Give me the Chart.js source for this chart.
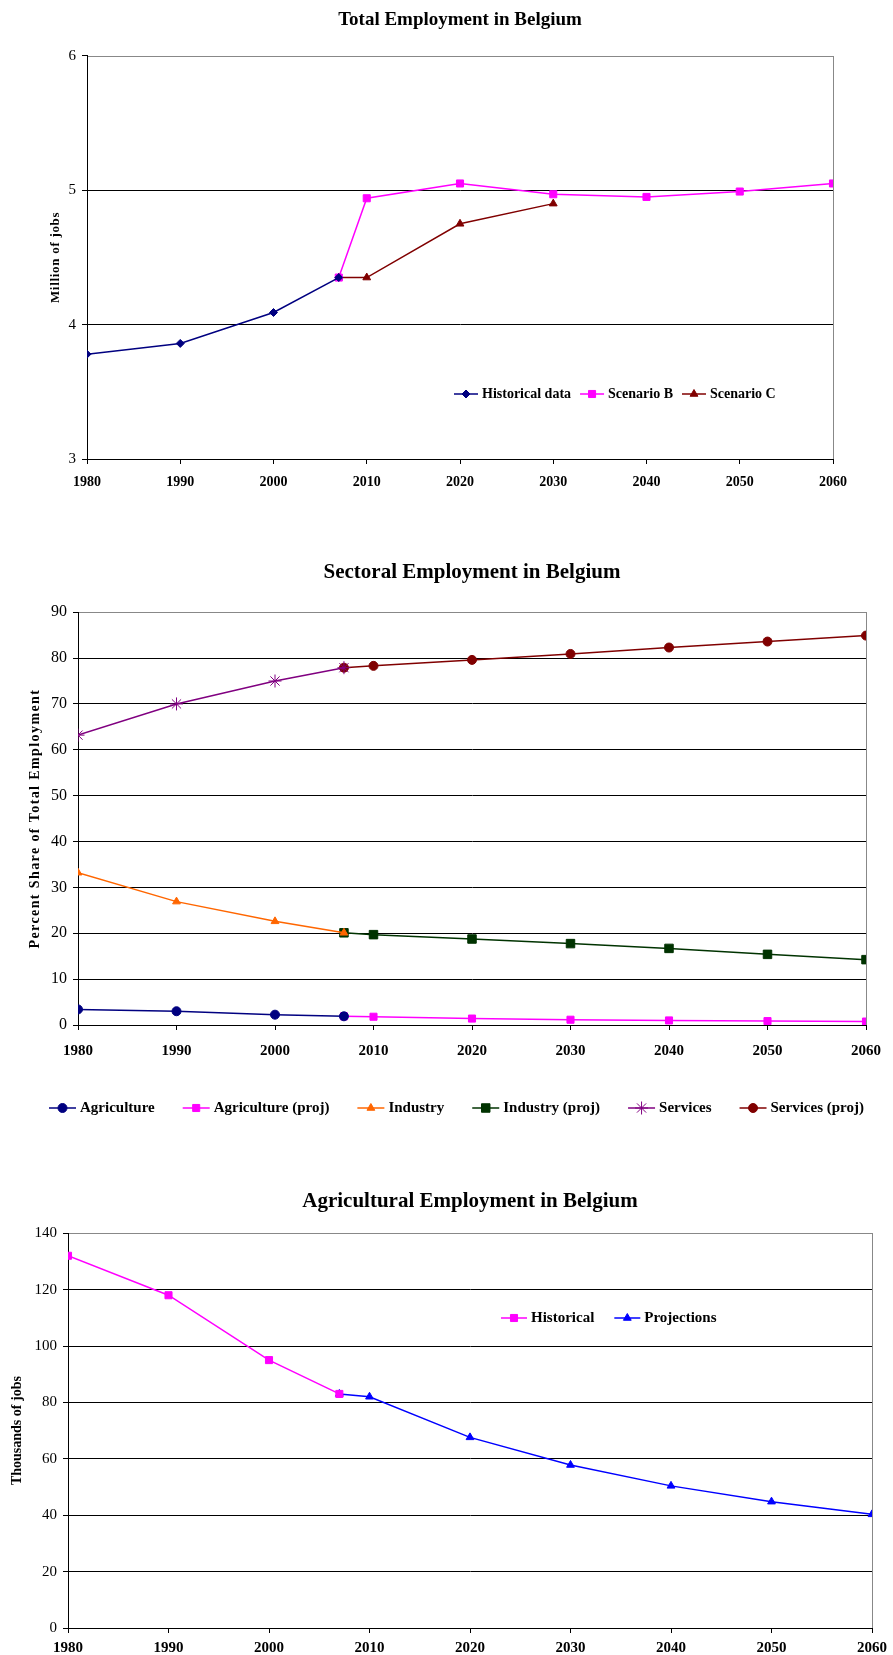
<!DOCTYPE html>
<html>
<head>
<meta charset="utf-8">
<title>Employment in Belgium</title>
<script src="https://cdn.jsdelivr.net/npm/chart.js@4.4.1/dist/chart.umd.min.js"></script>
<style>
  html, body { margin: 0; padding: 0; background: #fff; }
  #page { position: relative; width: 893px; height: 1655px; overflow: hidden; }
  .box { position: absolute; left: 0; width: 893px; }
  #total-box { top: 0; height: 505px; }
  #sector-box { top: 530px; height: 600px; }
  #agri-box { top: 1160px; height: 495px; }
</style>
</head>
<body>
<div id="page">
  <div class="box" id="total-box"><canvas id="total-chart"></canvas></div>
  <div class="box" id="sector-box"><canvas id="sector-chart"></canvas></div>
  <div class="box" id="agri-box"><canvas id="agri-chart"></canvas></div>
</div>
<script>
// years on the x axis
const yearTicks = [1980, 1990, 2000, 2010, 2020, 2030, 2040, 2050, 2060];
const histYears = [1980, 1990, 2000, 2007];
const projYears = [2007, 2010, 2020, 2030, 2040, 2050, 2060];
const scenarioCYears = [2007, 2010, 2020, 2030];

// total employment, million of jobs
const totalHistorical = [3.78, 3.86, 4.09, 4.35];
const totalScenarioB = [4.35, 4.94, 5.05, 4.97, 4.95, 4.99, 5.05];
const totalScenarioC = [4.35, 4.35, 4.75, 4.90];

// sector shares, percent of total employment
const agriShare = [3.4, 3.0, 2.25, 1.9];
const agriShareProj = [1.9, 1.8, 1.4, 1.15, 1.0, 0.85, 0.75];
const industryShare = [33.2, 26.9, 22.6, 20.1];
const industryShareProj = [20.1, 19.7, 18.75, 17.75, 16.7, 15.4, 14.25];
const servicesShare = [63.2, 70, 75, 77.9];
const servicesShareProj = [77.9, 78.3, 79.6, 80.9, 82.3, 83.6, 84.9];

// agricultural employment, thousands of jobs
const agriJobsHist = [132, 118, 95, 83];
const agriJobsProj = [83, 82, 67.6, 57.8, 50.4, 44.8, 40.3];

const serif = "'Liberation Serif', 'Times New Roman', serif";
Chart.defaults.font.family = serif;
Chart.defaults.color = '#000';
Chart.defaults.animation = false;

function points(xs, ys) {
  return xs.map((x, i) => ({ x: x, y: ys[i] }));
}

function line(label, xs, ys, color, style, radius) {
  return {
    label: label,
    data: points(xs, ys),
    borderColor: color,
    backgroundColor: color,
    pointBackgroundColor: color,
    pointBorderColor: color,
    pointStyle: style,
    pointRadius: radius,
    pointBorderWidth: 1,
    borderWidth: 1.5,
    tension: 0
  };
}

function yearAxis(labelSize, pad, height) {
  return {
    type: 'linear',
    min: 1980,
    max: 2060,
    afterBuildTicks: scale => { scale.ticks = yearTicks.map(v => ({ value: v })); },
    afterFit: scale => { scale.height = height; },
    ticks: { callback: v => String(v), font: { size: labelSize, weight: 'bold' }, padding: pad, maxRotation: 0, autoSkip: false },
    grid: { drawOnChartArea: false, tickLength: 5, tickColor: '#000' },
    border: { color: '#000' }
  };
}

function valueAxis(min, max, step, labelSize, width, title, titleSize, titleOffset, spacing) {
  return {
    min: min,
    max: max,
    afterFit: scale => {
      scale.width = width;
      // the axis title in the original is letter-spaced
      if (spacing && !scale.spacedTitle) {
        const drawTitle = scale.drawTitle;
        scale.drawTitle = function () {
          this.ctx.save();
          this.ctx.letterSpacing = spacing + 'px';
          drawTitle.call(this);
          this.ctx.restore();
        };
        scale.spacedTitle = true;
      }
    },
    ticks: { stepSize: step, font: { size: labelSize }, padding: 6 },
    grid: { color: c => c.tick.value === max ? 'rgba(0,0,0,0)' : '#000', tickLength: 5, tickColor: '#000' },
    border: { color: '#000' },
    title: { display: true, text: title, font: { size: titleSize, weight: 'bold' }, padding: { top: titleOffset, bottom: 0 } }
  };
}

function chartTitle(text, size, top, bottom) {
  return { display: true, fullSize: false, text: text, color: '#000', font: { size: size, weight: 'bold' }, padding: { top: top, bottom: bottom } };
}

// grey frame around the plot area, like the spreadsheet chart
const plotFrame = {
  id: 'plotFrame',
  beforeDraw(chart) {
    const ctx = chart.ctx;
    const a = chart.chartArea;
    ctx.save();
    ctx.strokeStyle = '#888';
    ctx.lineWidth = 1;
    ctx.strokeRect(Math.round(a.left) + 0.5, Math.round(a.top) + 0.5, Math.round(a.width), Math.round(a.height));
    ctx.restore();
  }
};

// legend with a line through the marker
const lineLegend = {
  id: 'lineLegend',
  afterDraw(chart, args, opts) {
    const ctx = chart.ctx;
    const y = opts.y;
    let x = opts.x;
    ctx.save();
    ctx.font = opts.font;
    ctx.textBaseline = 'middle';
    ctx.textAlign = 'left';
    chart.data.datasets.forEach(ds => {
      ctx.strokeStyle = ds.borderColor;
      ctx.lineWidth = ds.borderWidth;
      ctx.beginPath();
      ctx.moveTo(x, y);
      ctx.lineTo(x + opts.lineLength, y);
      ctx.stroke();
      ctx.fillStyle = ds.pointBackgroundColor;
      ctx.lineWidth = 1;
      Chart.helpers.drawPoint(ctx, { pointStyle: ds.pointStyle, radius: ds.pointRadius, rotation: 0, borderWidth: 1 }, x + opts.lineLength / 2, y);
      x += opts.lineLength + opts.textGap;
      ctx.fillStyle = '#000';
      ctx.fillText(ds.label, x, y);
      x += ctx.measureText(ds.label).width + opts.itemGap;
    });
    ctx.restore();
  }
};

new Chart(document.getElementById('total-chart'), {
  type: 'line',
  data: {
    datasets: [
      line('Historical data', histYears, totalHistorical, '#000080', 'rectRot', 4),
      line('Scenario B', projYears, totalScenarioB, '#FF00FF', 'rect', 5),
      line('Scenario C', scenarioCYears, totalScenarioC, '#800000', 'triangle', 4.5)
    ]
  },
  options: {
    responsive: true,
    maintainAspectRatio: false,
    layout: { padding: { left: 0, right: 60, top: 0, bottom: 0 } },
    scales: {
      x: yearAxis(14, 10, 46),
      y: valueAxis(3, 6, 1, 15, 87, 'Million of jobs', 13, 48, 0.7)
    },
    plugins: {
      title: chartTitle('Total Employment in Belgium', 19, 9, 24),
      legend: { display: false },
      tooltip: { enabled: false },
      lineLegend: { x: 454, y: 394, lineLength: 24, textGap: 4, itemGap: 9, font: 'bold 14px ' + serif }
    }
  },
  plugins: [plotFrame, lineLegend]
});

new Chart(document.getElementById('sector-chart'), {
  type: 'line',
  data: {
    datasets: [
      line('Agriculture', histYears, agriShare, '#000080', 'circle', 4.5),
      line('Agriculture (proj)', projYears, agriShareProj, '#FF00FF', 'rect', 5),
      line('Industry', histYears, industryShare, '#FF6600', 'triangle', 4.5),
      line('Industry (proj)', projYears, industryShareProj, '#003300', 'rect', 6),
      line('Services', histYears, servicesShare, '#800080', 'star', 6.5),
      line('Services (proj)', projYears, servicesShareProj, '#800000', 'circle', 4.5)
    ]
  },
  options: {
    responsive: true,
    maintainAspectRatio: false,
    layout: { padding: { left: 0, right: 24, top: 0, bottom: 0 } },
    scales: {
      x: yearAxis(15, 12, 105),
      y: valueAxis(0, 90, 10, 16, 78, 'Percent Share of Total Employment', 14, 27, 1.4)
    },
    plugins: {
      title: chartTitle('Sectoral Employment in Belgium', 21, 30, 27),
      legend: { display: false },
      tooltip: { enabled: false },
      lineLegend: { x: 49, y: 578, lineLength: 27, textGap: 4, itemGap: 28, font: 'bold 15px ' + serif }
    }
  },
  plugins: [plotFrame, lineLegend]
});

new Chart(document.getElementById('agri-chart'), {
  type: 'line',
  data: {
    datasets: [
      line('Historical', histYears, agriJobsHist, '#FF00FF', 'rect', 5),
      line('Projections', projYears, agriJobsProj, '#0000FF', 'triangle', 4.5)
    ]
  },
  options: {
    responsive: true,
    maintainAspectRatio: false,
    layout: { padding: { left: 0, right: 18, top: 0, bottom: 0 } },
    scales: {
      x: yearAxis(15, 6, 27),
      y: valueAxis(0, 140, 20, 15, 68, 'Thousands of jobs', 14, 9, 0)
    },
    plugins: {
      title: chartTitle('Agricultural Employment in Belgium', 21, 29, 19),
      legend: { display: false },
      tooltip: { enabled: false },
      lineLegend: { x: 501, y: 158, lineLength: 26, textGap: 4, itemGap: 20, font: 'bold 15px ' + serif }
    }
  },
  plugins: [plotFrame, lineLegend]
});
</script>
</body>
</html>
